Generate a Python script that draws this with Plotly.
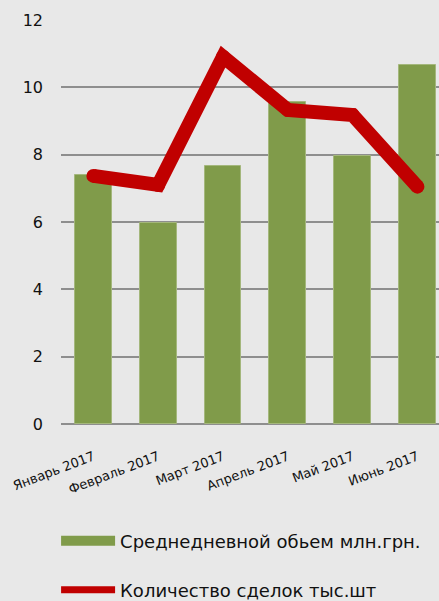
import plotly.graph_objects as go

categories = ["Январь 2017", "Февраль 2017", "Март 2017", "Апрель 2017", "Май 2017", "Июнь 2017"]
volume = [7.39, 5.96, 7.65, 9.56, 7.96, 10.66]
deals = [7.37, 7.10, 10.91, 9.33, 9.18, 7.05]
bar_name = "Среднедневной обьем млн.грн."
line_name = "Количество сделок тыс.шт"
y_ticks = [0, 2, 4, 6, 8, 10, 12]

GREEN = "#809B4A"
RED = "#C00000"
BG = "#E8E8E8"
FONT = "DejaVu Sans"

fig = go.Figure()
fig.add_trace(go.Bar(
    x=categories, y=volume, name=bar_name, marker_color=GREEN,
    marker_line=dict(color="#A4B77C", width=1), width=0.57, showlegend=False,
))
fig.add_trace(go.Scatter(
    x=categories, y=deals, name=line_name, mode="lines+markers",
    line=dict(color=RED, width=14), marker=dict(color=RED, size=14),
    showlegend=False,
))
# legend entries (wide swatches)
fig.add_trace(go.Scatter(
    x=[None], y=[None], mode="lines", name=bar_name,
    line=dict(color=GREEN, width=10), legend="legend",
))
fig.add_trace(go.Scatter(
    x=[None], y=[None], mode="lines", name=line_name,
    line=dict(color=RED, width=7), legend="legend2",
))

legend_common = dict(xanchor="left", yanchor="middle", yref="container",
                     font=dict(size=18, family=FONT, color="#111111"),
                     itemwidth=54, bgcolor="rgba(0,0,0,0)", itemsizing="trace")
fig.update_layout(
    width=439, height=601,
    margin=dict(l=61, r=0, t=20, b=177),
    paper_bgcolor=BG, plot_bgcolor=BG,
    font=dict(family=FONT, color="#111111"),
    bargap=0,
    legend=dict(x=-0.013, y=(601 - 541) / 601, **legend_common),
    legend2=dict(x=-0.013, y=(601 - 590) / 601, **legend_common),
)
fig.update_xaxes(
    type="category", range=[-0.5, 5.333], showgrid=False,
    tickangle=-21, tickfont=dict(size=13, family=FONT, color="#111111"),
    showline=False, zeroline=False, ticks="", ticklabelstandoff=22,
    automargin=False,
)
fig.update_yaxes(
    range=[0, 12], tickvals=y_ticks, showgrid=True, gridcolor="#8E8E8E",
    gridwidth=2, zeroline=True, zerolinecolor="#8E8E8E", zerolinewidth=2,
    tickfont=dict(size=16, family=FONT, color="#111111"),
    ticklabelstandoff=17, ticks="", automargin=False,
)
fig.write_html("out.html", config={"displayModeBar": False},
               post_script="document.body.style.margin='0';")
